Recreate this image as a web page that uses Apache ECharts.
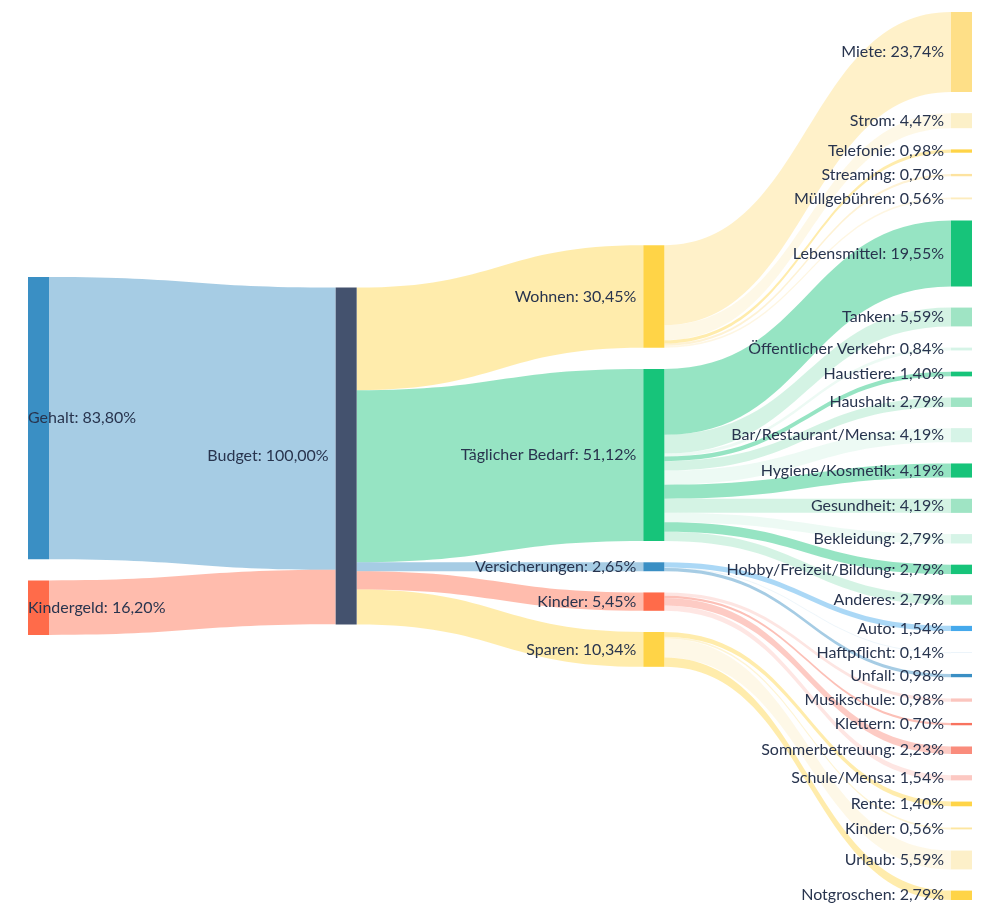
<!DOCTYPE html>
<html>
<head>
<meta charset="utf-8">
<script src="https://cdn.jsdelivr.net/npm/echarts@6/dist/echarts.min.js"></script>
<style>
  html, body { margin: 0; padding: 0; background: #ffffff; }
  #chart { width: 996px; height: 911px; }
</style>
</head>
<body>
<div id="chart"></div>
<script>
// ---- Data (percent of total budget) ----
const incomeNames = ['Gehalt', 'Kindergeld'];
const incomeValues = [83.80, 16.20];

const budgetName = 'Budget';
const budgetValue = 100.00;

const groupNames = ['Wohnen', 'Täglicher Bedarf', 'Versicherungen', 'Kinder', 'Sparen'];
const groupValues = [30.45, 51.12, 2.65, 5.45, 10.34];

const wohnenNames = ['Miete', 'Strom', 'Telefonie', 'Streaming', 'Müllgebühren'];
const wohnenValues = [23.74, 4.47, 0.98, 0.70, 0.56];

const bedarfNames = ['Lebensmittel', 'Tanken', 'Öffentlicher Verkehr', 'Haustiere', 'Haushalt',
  'Bar/Restaurant/Mensa', 'Hygiene/Kosmetik', 'Gesundheit', 'Bekleidung', 'Hobby/Freizeit/Bildung', 'Anderes'];
const bedarfValues = [19.55, 5.59, 0.84, 1.40, 2.79, 4.19, 4.19, 4.19, 2.79, 2.79, 2.79];

const versicherungNames = ['Auto', 'Haftpflicht', 'Unfall'];
const versicherungValues = [1.54, 0.14, 0.98];

const kinderNames = ['Musikschule', 'Klettern', 'Sommerbetreuung', 'Schule/Mensa'];
const kinderValues = [0.98, 0.70, 2.23, 1.54];

const sparenNames = ['Rente', 'Kinder', 'Urlaub', 'Notgroschen'];
const sparenValues = [1.40, 0.56, 5.59, 2.79];

const childNames = [wohnenNames, bedarfNames, versicherungNames, kinderNames, sparenNames];
const childValues = [wohnenValues, bedarfValues, versicherungValues, kinderValues, sparenValues];

// ---- Styles ----
const incomeColors = ['#3a8fc4', '#ff6b4a'];
const budgetColor = '#44526e';
const groupColors = ['#ffd447', '#17c47a', '#3a8fc4', '#ff6b4a', '#ffd447'];
const childColors = [
  ['#fedf87', '#fcf0c8', '#ffd447', '#fde3a0', '#fdecbe'],
  ['#17c47a', '#9fe4c4', '#d6f4e7', '#17c47a', '#9fe4c4', '#d6f4e7', '#17c47a', '#9fe4c4', '#d6f4e7', '#17c47a', '#9fe4c4'],
  ['#45a9ec', '#d7e8f4', '#3a8fc4'],
  ['#fbc5be', '#f8735f', '#fa8c7c', '#fcc8c2'],
  ['#ffd447', '#fde6a0', '#fdf0c9', '#ffd447']
];
const LINK_OPACITY = 0.45;
const TEXT_COLOR = '#28344e';
const FONT = 'Lato, "Noto Sans", sans-serif';

// ---- Layout parameters ----
const W = 996, HGT = 911;
const TOP = 12, BOTTOM = 11, LEFT = 28, RIGHT = 24;
const GAP = 21.2, NODE_W = 21;
const viewH = HGT - TOP - BOTTOM;

// ---- Build nodes and links ----
const nodes = [];
const links = [];
const columns = [[], [], [], []];

function addNode(id, name, value, color, depth) {
  const n = { id: id, name: name, value: value, depth: depth, itemStyle: { color: color } };
  nodes.push(n);
  columns[depth].push(n);
  return n;
}
function addLink(src, tgt, value, color) {
  links.push({ source: src, target: tgt, value: value, lineStyle: { color: color, opacity: LINK_OPACITY } });
}

incomeNames.forEach((nm, i) => addNode('in:' + nm, nm, incomeValues[i], incomeColors[i], 0));
addNode('budget', budgetName, budgetValue, budgetColor, 1);
groupNames.forEach((nm, i) => addNode('grp:' + nm, nm, groupValues[i], groupColors[i], 2));
groupNames.forEach((g, gi) => {
  childNames[gi].forEach((nm, ci) => addNode('item:' + g + ':' + nm, nm, childValues[gi][ci], childColors[gi][ci], 3));
});

incomeNames.forEach((nm, i) => addLink('in:' + nm, 'budget', incomeValues[i], incomeColors[i]));
groupNames.forEach((nm, i) => addLink('budget', 'grp:' + nm, groupValues[i], groupColors[i]));
groupNames.forEach((g, gi) => {
  childNames[gi].forEach((nm, ci) => addLink('grp:' + g, 'item:' + g + ':' + nm, childValues[gi][ci], childColors[gi][ci]));
});

// node layout value as the library computes it: max(in, out, own)
const inSum = {}, outSum = {};
links.forEach(l => {
  outSum[l.source] = (outSum[l.source] || 0) + l.value;
  inSum[l.target] = (inSum[l.target] || 0) + l.value;
});
function layoutValue(n) { return Math.max(inSum[n.id] || 0, outSum[n.id] || 0, n.value || 0); }

// same scale rule as the library (densest column), then center each column vertically
let ky = Infinity;
columns.forEach(col => {
  const s = col.reduce((a, n) => a + layoutValue(n), 0);
  ky = Math.min(ky, (viewH - (col.length - 1) * GAP) / s);
});
columns.forEach(col => {
  const span = col.reduce((a, n) => a + layoutValue(n) * ky, 0) + (col.length - 1) * GAP;
  let y = (viewH - span) / 2;
  col.forEach(n => {
    n.localY = y / viewH;
    y += layoutValue(n) * ky + GAP;
  });
});

function fmt(v) { return v.toFixed(2).replace('.', ',') + '%'; }

const labelBase = { color: TEXT_COLOR, fontFamily: FONT, fontSize: 16, formatter: p => p.name + ': ' + fmt(p.value) };

nodes.forEach(n => {
  if (n.depth === 0) {
    n.label = Object.assign({}, labelBase, { position: 'insideLeft', distance: 0 });
  } else {
    n.label = Object.assign({}, labelBase, { position: 'left', distance: 7 });
  }
  delete n.depth;
});

const chart = echarts.init(document.getElementById('chart'), null, { renderer: 'canvas' });
chart.setOption({
  animation: false,
  backgroundColor: '#ffffff',
  series: [{
    type: 'sankey',
    left: LEFT, right: RIGHT, top: TOP, bottom: BOTTOM,
    nodeWidth: NODE_W,
    nodeGap: GAP,
    layoutIterations: 0,
    draggable: false,
    emphasis: { disabled: true },
    lineStyle: { curveness: 0.5 },
    itemStyle: { borderWidth: 0 },
    label: labelBase,
    data: nodes,
    links: links
  }]
});
</script>
</body>
</html>
